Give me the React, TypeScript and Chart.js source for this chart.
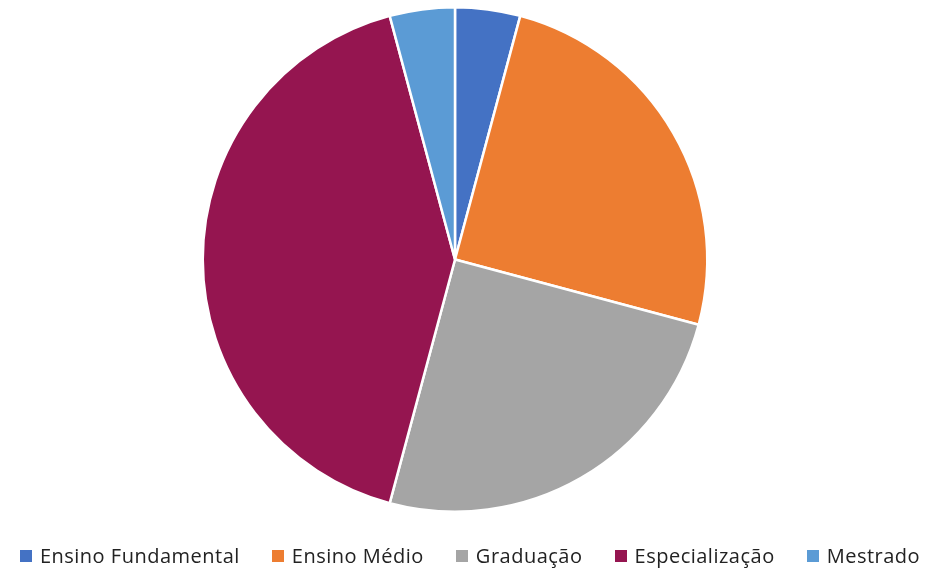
import React, { useEffect, useRef } from "react";
import { Chart, registerables } from "chart.js";

Chart.register(...registerables);

const categories = ["Ensino Fundamental", "Ensino Médio", "Graduação", "Especialização", "Mestrado"];
const values = [1, 6, 6, 10, 1];
const colors = ["#4472C4", "#ED7D31", "#A5A5A5", "#951550", "#5B9BD5"];

export default function App() {
  const canvasRef = useRef<HTMLCanvasElement | null>(null);

  useEffect(() => {
    document.body.style.margin = "0";
    const ctx = canvasRef.current;
    if (!ctx) return;
    const chart = new Chart(ctx, {
      type: "pie",
      data: {
        labels: categories,
        datasets: [
          {
            data: values,
            backgroundColor: colors,
            borderColor: "#ffffff",
            borderWidth: 2.5,
          },
        ],
      },
      options: {
        responsive: false,
        animation: false,
        layout: { padding: { top: 6, bottom: 62, left: 0, right: 25 } },
        plugins: {
          legend: { display: false },
          tooltip: { enabled: false },
        },
      },
    });
    return () => chart.destroy();
  }, []);

  return (
    <div style={{ position: "fixed", left: 0, top: 0, width: 935, height: 575, background: "#fff", overflow: "hidden" }}>
      <canvas ref={canvasRef} width={935} height={575} style={{ position: "absolute", left: 0, top: 0 }} />
      <div
        style={{
          position: "absolute",
          left: 0,
          top: 542,
          width: 935,
          display: "flex",
          justifyContent: "center",
          alignItems: "center",
          gap: 32,
          fontFamily: "'Open Sans', sans-serif",
          fontSize: 20,
          letterSpacing: 0.5,
          color: "#222222",
          lineHeight: "27px",
          paddingLeft: 5,
          boxSizing: "border-box",
        }}
      >
        {categories.map((c, i) => (
          <div key={c} style={{ display: "flex", alignItems: "center", whiteSpace: "nowrap" }}>
            <span style={{ display: "inline-block", width: 12, height: 12, background: colors[i], marginRight: 8 }} />
            <span>{c}</span>
          </div>
        ))}
      </div>
    </div>
  );
}
